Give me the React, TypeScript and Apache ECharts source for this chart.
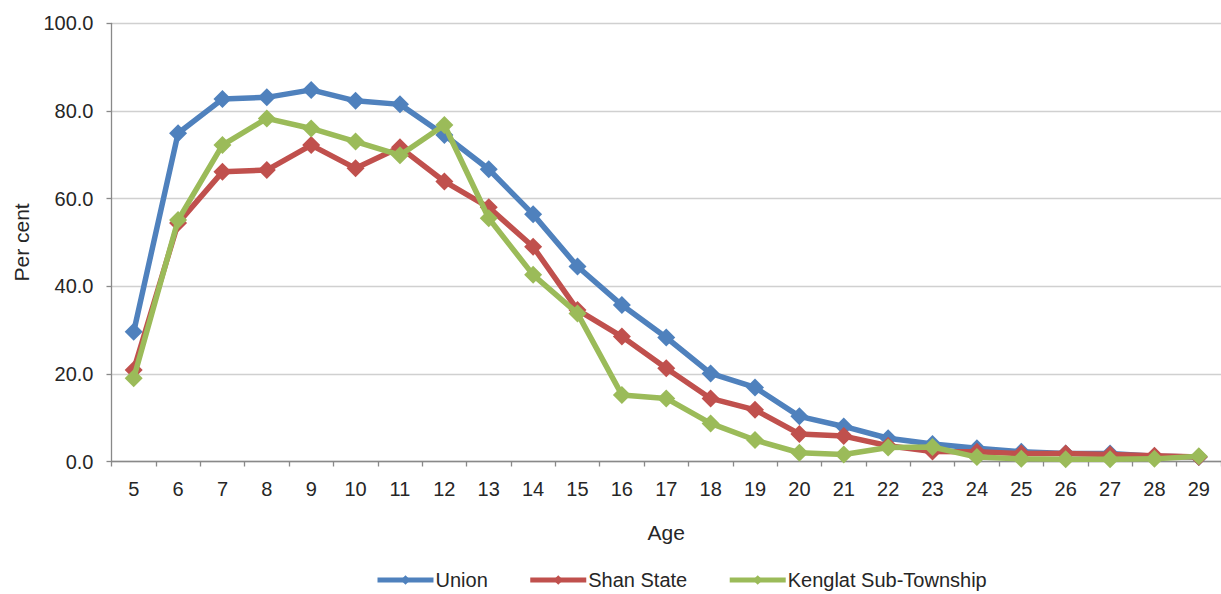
import React, { useEffect, useRef } from "react";
import * as echarts from "echarts";

// Ages on the category axis
const ages: string[] = [
  "5", "6", "7", "8", "9", "10", "11", "12", "13", "14", "15", "16", "17",
  "18", "19", "20", "21", "22", "23", "24", "25", "26", "27", "28", "29",
];

// Per cent values by age
const unionValues: number[] = [
  29.6, 74.9, 82.7, 83.1, 84.8, 82.3, 81.5, 74.5, 66.7, 56.4, 44.5, 35.7, 28.3,
  20.1, 16.9, 10.3, 8.0, 5.3, 4.0, 3.0, 2.2, 1.8, 1.8, 1.2, 1.0,
];
const shanStateValues: number[] = [
  20.9, 54.4, 66.1, 66.5, 72.2, 66.9, 71.7, 63.9, 58.0, 49.0, 34.6, 28.5, 21.3,
  14.4, 11.8, 6.3, 5.8, 3.6, 2.3, 2.2, 1.8, 1.8, 1.6, 1.3, 1.0,
];
const kenglatValues: number[] = [
  19.0, 55.1, 72.2, 78.3, 76.0, 73.0, 69.9, 76.8, 55.5, 42.6, 33.8, 15.2, 14.4,
  8.7, 4.9, 2.0, 1.6, 3.2, 3.3, 1.0, 0.6, 0.5, 0.5, 0.6, 1.2,
];

const seriesNames: string[] = ["Union", "Shan State", "Kenglat Sub-Township"];
const seriesColors: string[] = ["#4F81BD", "#C0504D", "#9BBB59"];

const FONT = '"Liberation Sans", Arial, sans-serif';

export default function App() {
  const ref = useRef<HTMLDivElement>(null);

  useEffect(() => {
    if (!ref.current) return;
    const chart = echarts.init(ref.current, undefined, { renderer: "svg" });

    const values = [unionValues, shanStateValues, kenglatValues];

    chart.setOption({
      animation: false,
      backgroundColor: "#ffffff",
      textStyle: { fontFamily: FONT },
      grid: { left: 111.5, right: -5, top: 23.3, bottom: 132.5, containLabel: false },
      legend: {
        left: 375,
        top: 570,
        padding: 0,
        itemWidth: 56,
        itemHeight: 12,
        itemGap: 40,
        lineStyle: { width: 5 },
        textStyle: { fontSize: 20, lineHeight: 20, color: "#262626", fontFamily: FONT, padding: [0, 0, 0, -3] },
        data: seriesNames,
      },
      xAxis: {
        type: "category",
        data: ages,
        boundaryGap: true,
        name: "Age",
        nameLocation: "middle",
        nameGap: 60,
        nameTextStyle: { fontSize: 21, color: "#262626", fontFamily: FONT },
        axisLine: { lineStyle: { color: "#898989", width: 1.3 } },
        axisTick: { show: true, length: 5, alignWithLabel: false, lineStyle: { color: "#898989", width: 1.3 } },
        axisLabel: { fontSize: 20, color: "#262626", margin: 17, interval: 0, fontFamily: FONT },
        splitLine: { show: false },
      },
      yAxis: {
        type: "value",
        min: 0,
        max: 100,
        interval: 20,
        name: "Per cent",
        nameLocation: "middle",
        nameRotate: 90,
        nameGap: 80,
        nameTextStyle: { fontSize: 21, color: "#262626", fontFamily: FONT },
        axisLine: { show: true, lineStyle: { color: "#898989", width: 1.3 } },
        axisTick: { show: true, length: 5, lineStyle: { color: "#898989", width: 1.3 } },
        axisLabel: {
          fontSize: 20,
          color: "#262626",
          margin: 18,
          fontFamily: FONT,
          formatter: (v: number) => v.toFixed(1),
        },
        splitLine: { show: true, lineStyle: { color: "#d0d0d0", width: 1.3 } },
      },
      series: seriesNames.map((name, i) => ({
        name,
        type: "line",
        data: values[i],
        symbol: "diamond",
        symbolSize: 18,
        lineStyle: { width: 5.5, color: seriesColors[i] },
        itemStyle: { color: seriesColors[i] },
        z: 2 + i,
      })),
    });

    return () => {
      chart.dispose();
    };
  }, []);

  return (
    <div
      ref={ref}
      style={{ position: "fixed", left: 0, top: 0, width: 1221, height: 594 }}
    />
  );
}
